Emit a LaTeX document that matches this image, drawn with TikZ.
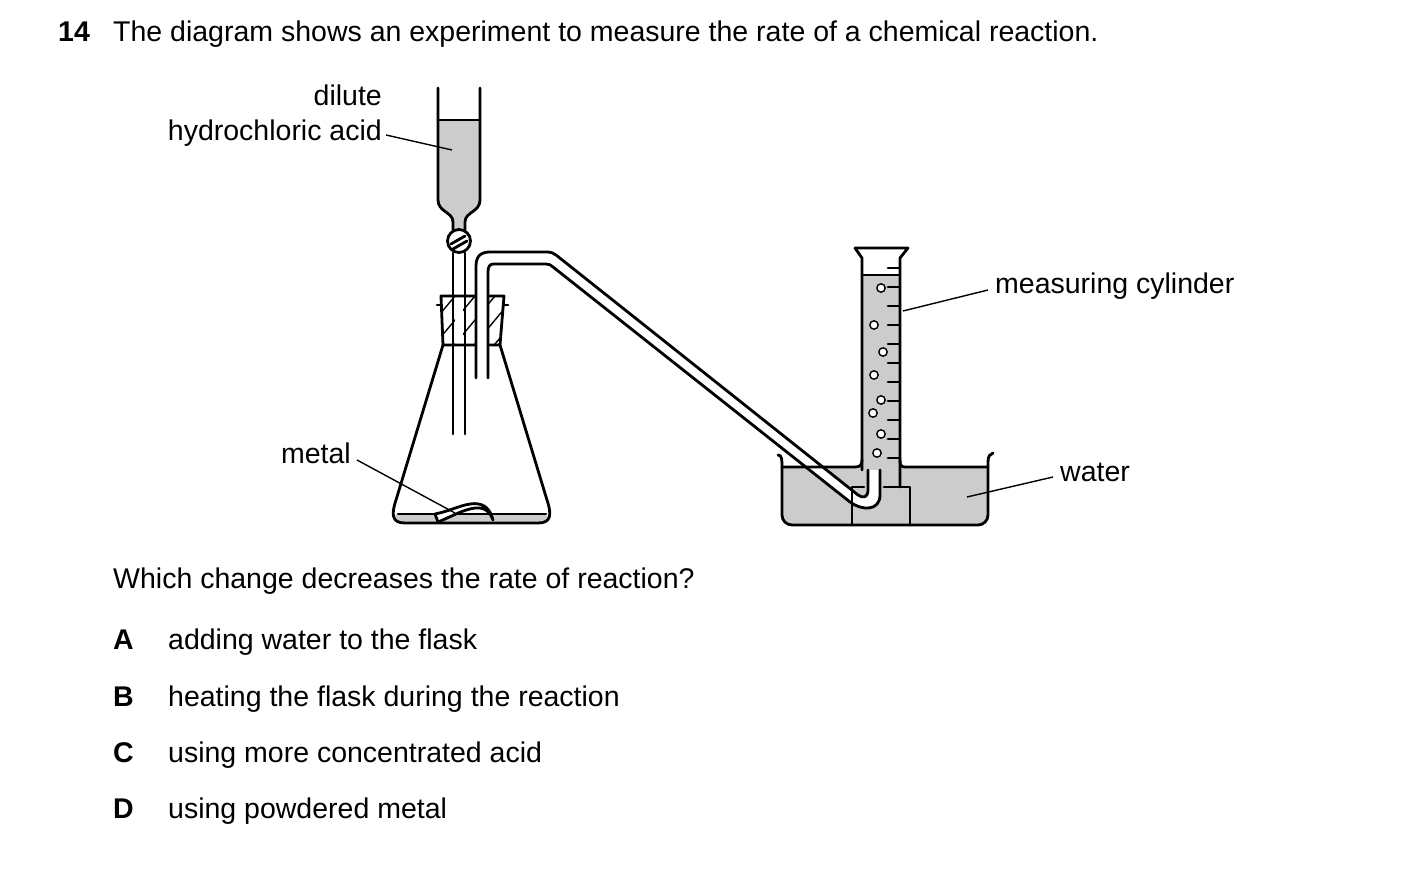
\documentclass[tikz,border=0pt]{standalone}
\usepackage{fontspec}
\setmainfont{Liberation Sans}
\begin{document}
\begin{tikzpicture}[x=1pt,y=-1pt,
  ln/.style={line width=2.8pt,line join=round,line cap=round},
  thin/.style={line width=1.4pt},
  liq/.style={fill=black!20},
  txt/.style={font=\fontsize{28.5}{34}\selectfont,inner sep=0pt},
  lab/.style={font=\fontsize{28.5}{34}\selectfont,inner sep=0pt}]
\useasboundingbox (0,0) rectangle (1403,874);
% ---- texts
\node[txt,anchor=base west] (num) at (58,42) {\textbf{14}};
\node[txt,anchor=base west] (q) at (113,42) {The diagram shows an experiment to measure the rate of a chemical reaction.};
\node[lab,anchor=base east] (dil) at (382,106) {dilute};
\node[lab,anchor=base east] (hcl) at (382,141) {hydrochloric acid};
\node[lab,anchor=base east] (met) at (351,464) {metal};
\node[lab,anchor=base west] (mc) at (995,294) {measuring cylinder};
\node[lab,anchor=base west] (wat) at (1060,481) {water};
\node[txt,anchor=base west] (q2) at (113,588) {Which change decreases the rate of reaction?};
\foreach \L/\T/\y in {A/adding water to the flask/649,B/heating the flask during the reaction/706,C/using more concentrated acid/762,D/using powdered metal/818}{
  \node[txt,anchor=base west] (l\L) at (113,\y) {\textbf{\L}};
  \node[txt,anchor=base west] (t\L) at (168,\y) {\T};}
% ---- trough water
\fill[liq] (782,467) -- (988,467) -- (988,515) arc[start angle=0,end angle=90,radius=10] -- (792,525) arc[start angle=90,end angle=180,radius=10] -- cycle;
\fill[liq] (862,275) rectangle (900,487);
\fill[liq] (852,487) rectangle (910,525);
% ---- funnel
\fill[liq] (438,120) -- (480,120) -- (480,200) .. controls (480,212) and (465,212) .. (465,222) -- (465,230) -- (453,230) -- (453,222) .. controls (453,212) and (438,212) .. (438,200) -- cycle;
\draw[ln] (438,88) -- (438,200) .. controls (438,212) and (453,212) .. (453,222) -- (453,230);
\draw[ln] (480,88) -- (480,200) .. controls (480,212) and (465,212) .. (465,222) -- (465,230);
\draw[ln] (438,120) -- (480,120);
\draw[ln,fill=white] (459,241) circle[radius=11.5];
\draw[ln] (451,244) -- (465,236); \draw[ln] (453,249) -- (467,241);
\draw[ln] (453,253) -- (453,434); \draw[ln] (465,253) -- (465,434);
% ---- flask
\fill[liq] (398,514) -- (546,514) -- (547,517) arc[start angle=0,end angle=90,radius=6] -- (399,523) arc[start angle=90,end angle=180,radius=6] -- cycle;
\draw[ln] (443,345) -- (396,500) .. controls (391,515) and (392,523) .. (405,523) -- (538,523) .. controls (551,523) and (552,515) .. (547,500) -- (500,345);
\draw[ln] (398,514) -- (546,514);
% stopper hatching
\begin{scope}
\clip (441,296) -- (504,296) -- (500,345) -- (443,345) -- cycle;
\foreach \s in {-40,-20,...,120} \draw[thin] ({430+\s},350) -- ({480+\s},290);
\end{scope}
\fill[white] (455,294) rectangle (463,347);
\fill[white] (478,294) rectangle (486,347);
\draw[ln] (441,296) -- (504,296) -- (500,345) -- (443,345) -- cycle;
\draw[ln] (437,305) -- (441,305); \draw[ln] (504,305) -- (508,305);
\draw[ln] (453,296) -- (453,345); \draw[ln] (465,296) -- (465,345);
% metal strip
\draw[ln,fill=white] (435,514) -- (438,522) .. controls (455,515) and (462,510) .. (475,508) .. controls (485,507) and (490,512) .. (493,520) .. controls (490,508) and (483,502) .. (470,504) .. controls (458,506) and (450,511) .. cycle;
% ---- delivery tube
\draw[white,line width=10pt,line cap=butt] (482,378) -- (482,268) .. controls (482,260) and (485,258) .. (492,258) -- (550,258) -- (854,498) .. controls (864,506) and (874,505) .. (874,495) -- (874,470);
\draw[ln] (476,378) -- (476,266) .. controls (476,256) and (481,252) .. (490,252) -- (548,252) .. controls (551,252) and (553,253) .. (556,255) -- (858,495);
\draw[ln] (488,378) -- (488,272) .. controls (488,266) and (490,264) .. (494,264) -- (546,264) .. controls (549,264) and (551,265) .. (553,267) -- (850,502) .. controls (862,511) and (880,511) .. (880,495) -- (880,470);
\draw[ln] (858,495) .. controls (863,499) and (868,497) .. (868,490) -- (868,470);
% ---- cylinder
\draw[ln] (855,248) -- (908,248) -- (900,258) -- (900,487);
\draw[ln] (855,248) -- (862,258) -- (862,470);
\draw[ln] (862,275) -- (900,275);
\foreach \k in {0,...,10} \draw[ln] (888,{268+19*\k}) -- (900,{268+19*\k});
\foreach \p in {(881,288),(874,325),(883,352),(874,375),(881,400),(873,413),(881,434),(877,453)}
  \draw[thin,fill=white] \p circle[radius=4.2];
% ---- trough & stand
\draw[ln] (778,455) .. controls (782,455) and (782,460) .. (782,467) -- (782,515) arc[start angle=180,end angle=90,radius=10] -- (978,525) arc[start angle=90,end angle=0,radius=10] -- (988,462) .. controls (988,456) and (990,454) .. (993,453);
\draw[ln] (782,467) -- (855,467) .. controls (860,467) and (862,465) .. (862,460);
\draw[ln] (988,467) -- (905,467) .. controls (901,467) and (900,465) .. (900,460);
\draw[ln] (852,525) -- (852,487) -- (864,487);
\draw[ln] (884,487) -- (910,487) -- (910,525);
% ---- leaders
\coordinate (h2) at (452,150); \draw[thin] (386,135) -- (h2);
\coordinate (m2) at (455,513); \draw[thin] (357,460) -- (m2);
\coordinate (c2) at (903,311); \draw[thin] (988,290) -- (c2);
\coordinate (w2) at (967,497); \draw[thin] (1053,477) -- (w2);
\end{tikzpicture}
\end{document}
